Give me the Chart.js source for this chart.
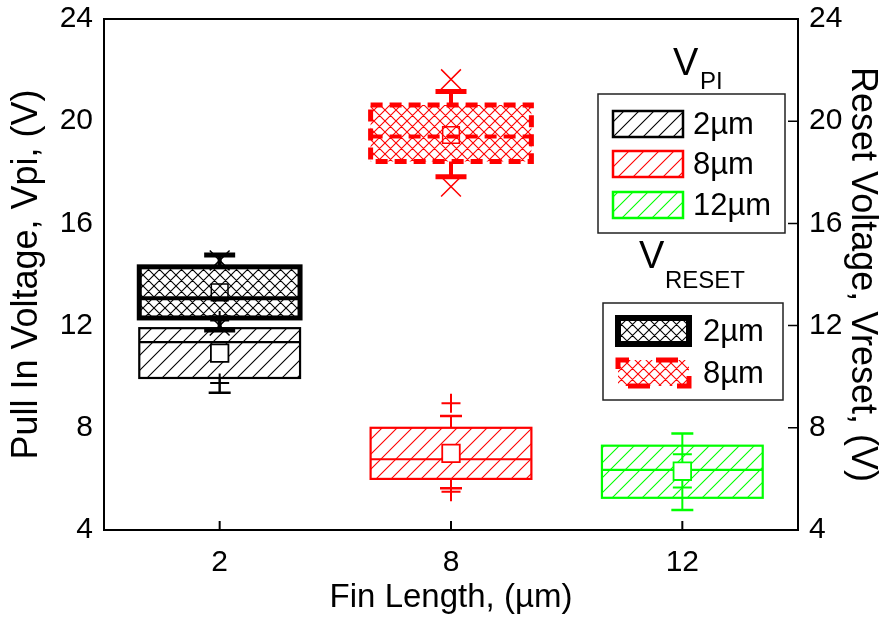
<!DOCTYPE html>
<html>
<head>
<meta charset="utf-8">
<script src="https://cdn.jsdelivr.net/npm/chart.js@4/dist/chart.umd.min.js"></script>
<style>
  html, body { margin: 0; padding: 0; background: #fff; }
  #wrap { width: 885px; height: 621px; }
</style>
</head>
<body>
<div id="wrap"><canvas id="finChart"></canvas></div>
<script>
// Fin lengths (µm) and the colour used for each one
const finLengths = ['2', '8', '12'];
const seriesColors = ['#000000', '#ff0000', '#00ff00'];
const yTicks = [4, 8, 12, 16, 20, 24];

// Pull-in voltage box statistics (V)
const vpiLowerWhisker = [9.37, 5.63, 4.78];
const vpiQ1 = [9.95, 6.0, 5.26];
const vpiMedian = [11.35, 6.77, 6.35];
const vpiQ3 = [11.9, 8.0, 7.3];
const vpiUpperWhisker = [12.35, 8.46, 7.78];
const vpiMean = [10.92, 7.0, 6.3];
const vpiLowMarks = [9.75, 5.5, 5.66];
const vpiHighMarks = [12.2, 8.96, 6.96];

// Reset voltage box statistics (V), no 12 µm sample
const vresetLowerWhisker = [11.83, 17.83, null];
const vresetQ1 = [12.3, 18.42, null];
const vresetMedian = [13.07, 19.4, null];
const vresetQ3 = [14.3, 20.63, null];
const vresetUpperWhisker = [14.76, 21.16, null];
const vresetMean = [13.3, 19.46, null];
const vresetLowMarks = [12.0, 17.44, null];
const vresetHighMarks = [14.55, 21.64, null];

const FONT = '"Liberation Sans", Arial, Helvetica, sans-serif';
Chart.defaults.font.family = FONT;
Chart.defaults.color = '#000';

// Diagonal hatch fill; cross = true adds the second diagonal
const makeHatch = (color, step, cross) => {
    const tile = document.createElement('canvas');
    tile.width = tile.height = step;
    const g = tile.getContext('2d');
    g.strokeStyle = color;
    g.lineWidth = 1.1;
    g.beginPath();
    g.moveTo(-1, step + 1); g.lineTo(step + 1, -1);
    g.moveTo(-1, 1); g.lineTo(1, -1);
    g.moveTo(step - 1, step + 1); g.lineTo(step + 1, step - 1);
    if (cross) {
        g.moveTo(-1, -1); g.lineTo(step + 1, step + 1);
        g.moveTo(step - 1, -1); g.lineTo(step + 1, 1);
        g.moveTo(-1, step - 1); g.lineTo(1, step + 1);
    }
    g.stroke();
    return g.createPattern(tile, 'repeat');
};

const vpiFill = seriesColors.map(c => makeHatch(c, 15, false));
const vresetFill = seriesColors.map(c => makeHatch(c, 11, true));

const toRange = (lo, hi) => lo.map((v, i) => (v == null ? null : [v, hi[i]]));

// Whiskers, caps, outline and median drawn right after each box dataset
const boxDecor = {
    id: 'boxDecor',
    afterDatasetDraw(chart, args) {
        const ds = chart.data.datasets[args.index];
        if (!ds.box) return;
        const st = ds.box;
        const yScale = chart.scales[ds.yAxisID];
        const c = chart.ctx;
        args.meta.data.forEach((bar, i) => {
            if (ds.data[i] == null) return;
            const left = bar.x - bar.width / 2;
            const top = Math.min(bar.y, bar.base);
            const bottom = Math.max(bar.y, bar.base);
            const yHi = yScale.getPixelForValue(st.high[i]);
            const yLo = yScale.getPixelForValue(st.low[i]);
            const yMed = yScale.getPixelForValue(st.median[i]);
            c.save();
            c.strokeStyle = seriesColors[i];
            c.lineCap = 'butt';
            c.lineWidth = st.whiskerWidth;
            c.beginPath();
            c.moveTo(bar.x, top); c.lineTo(bar.x, yHi);
            c.moveTo(bar.x, bottom); c.lineTo(bar.x, yLo);
            c.stroke();
            c.lineWidth = st.capLineWidth;
            c.beginPath();
            c.moveTo(bar.x - st.capWidth / 2, yHi); c.lineTo(bar.x + st.capWidth / 2, yHi);
            c.moveTo(bar.x - st.capWidth / 2, yLo); c.lineTo(bar.x + st.capWidth / 2, yLo);
            c.stroke();
            c.setLineDash(st.dash[i] || []);
            c.lineWidth = st.lineWidth;
            c.strokeRect(left, top, bar.width, bottom - top);
            c.lineWidth = st.medianWidth;
            c.beginPath();
            c.moveTo(left, yMed); c.lineTo(left + bar.width, yMed);
            c.stroke();
            c.restore();
        });
    }
};

// Frame, inward ticks and the two legends
const frameAndLegend = {
    id: 'frameAndLegend',
    afterDraw(chart) {
        const c = chart.ctx;
        const a = chart.chartArea;
        const xs = chart.scales.x;
        const yr = chart.scales.y2;
        c.save();
        c.strokeStyle = '#000';
        c.lineWidth = 2;
        c.strokeRect(a.left, a.top, a.right - a.left, a.bottom - a.top);
        c.beginPath();
        finLengths.forEach((_, i) => {
            const px = xs.getPixelForTick(i);
            c.moveTo(px, a.bottom); c.lineTo(px, a.bottom - 9);
        });
        c.stroke();
        c.lineWidth = 1.5;
        c.beginPath();
        yTicks.forEach(v => {
            const py = yr.getPixelForValue(v);
            c.moveTo(a.right, py); c.lineTo(a.right - 10, py);
        });
        c.stroke();

        c.fillStyle = '#000';
        c.textBaseline = 'alphabetic';
        c.textAlign = 'left';

        // V_PI legend
        c.font = '38px ' + FONT;
        c.fillText('V', 673, 75);
        c.font = '24px ' + FONT;
        c.fillText('PI', 700, 89);
        c.fillStyle = '#fff';
        c.fillRect(598, 94, 187, 139);
        c.strokeStyle = '#222';
        c.lineWidth = 1.5;
        c.strokeRect(598, 94, 187, 139);
        const rows = [124, 164, 205];
        rows.forEach((cy, i) => {
            c.fillStyle = vpiFill[i];
            c.fillRect(613, cy - 13, 70, 26);
            c.strokeStyle = seriesColors[i];
            c.lineWidth = 2.5;
            c.strokeRect(613, cy - 13, 70, 26);
            c.fillStyle = '#000';
            c.font = '31px ' + FONT;
            c.textBaseline = 'middle';
            c.fillText(finLengths[i] + 'µm', 693, cy + 1);
        });

        // V_RESET legend
        c.textBaseline = 'alphabetic';
        c.font = '38px ' + FONT;
        c.fillText('V', 639, 268);
        c.font = '24px ' + FONT;
        c.fillText('RESET', 665, 288);
        c.fillStyle = '#fff';
        c.fillRect(603, 303, 180, 97);
        c.strokeStyle = '#222';
        c.lineWidth = 1.5;
        c.strokeRect(603, 303, 180, 97);
        const rows2 = [331, 373];
        const dashes = [[], [22, 27]];
        rows2.forEach((cy, i) => {
            c.fillStyle = vresetFill[i];
            c.fillRect(618, cy - 13, 71, 26);
            c.strokeStyle = seriesColors[i];
            c.lineWidth = i === 0 ? 6 : 5;
            c.setLineDash(dashes[i]);
            c.lineDashOffset = 11;
            c.strokeRect(618, cy - 13, 71, 26);
            c.setLineDash([]);
            c.fillStyle = '#000';
            c.font = '31px ' + FONT;
            c.textBaseline = 'middle';
            c.fillText(finLengths[i] + 'µm', 703, cy + 1);
        });
        c.restore();
    }
};

const markerSet = (data, style, radius, width, fill) => ({
    type: 'line',
    yAxisID: 'y',
    data: data,
    showLine: false,
    pointStyle: style,
    pointRadius: radius,
    pointBorderWidth: width,
    pointBorderColor: seriesColors,
    pointBackgroundColor: fill,
    order: 1
});

const axisTitle = (text, size, padding) => ({
    display: true, text: text, color: '#000',
    font: { family: FONT, size: size }, padding: padding
});

const yAxis = (position, title, width, titlePad) => ({
    position: position,
    min: 4,
    max: 24,
    afterBuildTicks: s => { s.ticks = yTicks.map(v => ({ value: v })); },
    afterFit: s => {
        s.width = width;
        s.paddingTop = 0;
        s.paddingBottom = 0;
    },
    grid: { display: false, drawTicks: false },
    border: { display: false },
    ticks: { color: '#000', font: { size: 30 }, padding: 11 },
    title: axisTitle(title, 36, titlePad)
});

new Chart(document.getElementById('finChart'), {
    type: 'bar',
    data: {
        labels: finLengths,
        datasets: [
            markerSet(vpiMean, 'rect', 12.4, 1.8, '#ffffff'),
            markerSet(vpiLowMarks, 'cross', 9.5, 2, 'transparent'),
            markerSet(vpiHighMarks, 'cross', 9.5, 2, 'transparent'),
            Object.assign(markerSet(vresetMean, 'rect', 11.8, 1.5, 'transparent'), { yAxisID: 'y2' }),
            Object.assign(markerSet(vresetLowMarks, 'crossRot', 14, 1.5, 'transparent'), { yAxisID: 'y2' }),
            Object.assign(markerSet(vresetHighMarks, 'crossRot', 14, 1.5, 'transparent'), { yAxisID: 'y2' }),
            {
                type: 'bar',
                label: 'Vreset',
                yAxisID: 'y2',
                data: toRange(vresetQ1, vresetQ3),
                backgroundColor: vresetFill,
                borderWidth: 0,
                grouped: false,
                barPercentage: 0.695,
                categoryPercentage: 1,
                order: 3,
                box: {
                    median: vresetMedian, low: vresetLowerWhisker, high: vresetUpperWhisker,
                    lineWidth: 5, medianWidth: 4, whiskerWidth: 4,
                    capWidth: 31, capLineWidth: 5, dash: [[], [12, 7]]
                }
            },
            {
                type: 'bar',
                label: 'Vpi',
                yAxisID: 'y',
                data: toRange(vpiQ1, vpiQ3),
                backgroundColor: vpiFill,
                borderWidth: 0,
                grouped: false,
                barPercentage: 0.695,
                categoryPercentage: 1,
                order: 4,
                box: {
                    median: vpiMedian, low: vpiLowerWhisker, high: vpiUpperWhisker,
                    lineWidth: 2.2, medianWidth: 2.2, whiskerWidth: 2,
                    capWidth: 22, capLineWidth: 2.5, dash: []
                }
            }
        ]
    },
    options: {
        responsive: true,
        maintainAspectRatio: false,
        animation: false,
        events: [],
        layout: { padding: { top: 19, left: 0, right: 0, bottom: 0 } },
        plugins: { legend: { display: false }, tooltip: { enabled: false } },
        scales: {
            x: {
                type: 'category',
                offset: true,
                afterFit: s => { s.height = 91; },
                grid: { display: false, drawTicks: false },
                border: { display: false },
                ticks: { color: '#000', font: { size: 30 }, padding: 15 },
                title: axisTitle('Fin Length, (µm)', 33, { top: 0, bottom: 3 })
            },
            y: yAxis('left', 'Pull In Voltage, Vpi, (V)', 104, { top: 5, bottom: 0 }),
            y2: yAxis('right', 'Reset Voltage, Vreset, (V)', 87, { top: 1, bottom: 0 })
        }
    },
    plugins: [boxDecor, frameAndLegend]
});
</script>
</body>
</html>
